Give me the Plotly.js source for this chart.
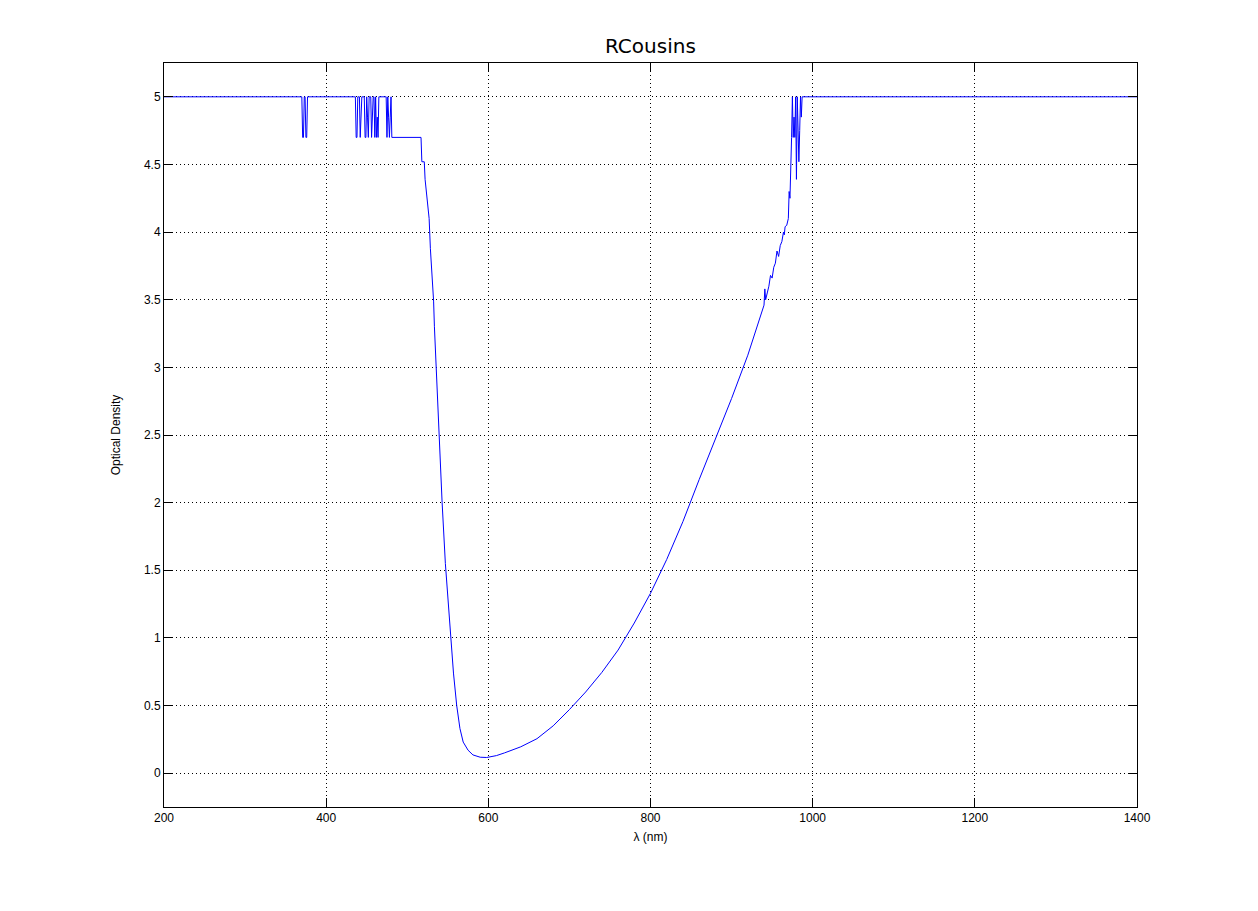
<!DOCTYPE html>
<html>
<head>
<meta charset="utf-8">
<script src="https://cdn.plot.ly/plotly-3.0.1.min.js"></script>
<style>html,body{margin:0;padding:0;background:#fff;}#chart{width:1258px;height:911px;}</style>
</head>
<body>
<div id="chart"></div>
<script>
// wavelength (nm)
const wavelength = [
  200, 370, 371, 372, 373, 374, 375, 376, 377, 378,
  436, 437, 438, 439, 441, 442, 443, 444, 447, 448, 449, 450, 451, 452, 453,
  455, 456, 457, 458, 459, 460, 461, 462, 463, 464, 465, 466,
  474, 475, 476, 477, 478, 479, 480, 481,
  517, 518, 521, 522, 524, 526, 527, 528.5, 530, 531, 532.5, 533.5, 535.5,
  539, 543, 547, 551, 554, 557, 561, 565, 569, 575, 581, 590, 598,
  610, 620, 640, 660, 680, 700, 720, 740, 760, 780, 800, 820, 840, 860, 880,
  900, 920, 930, 938, 940, 941, 942, 944, 946, 948, 950, 952,
  954, 956, 958, 960, 962, 964, 965, 966, 968, 970, 971, 972, 973, 974,
  975, 976, 977, 978, 979, 980, 981, 982, 983, 984, 985, 986, 987, 1400
];
// optical density
const opticalDensity = [
  5, 5, 4.7, 4.7, 5, 5, 4.7, 4.7, 5, 5,
  5, 4.7, 4.7, 5, 5, 4.7, 4.85, 5, 5, 4.7, 4.7, 5, 4.85, 4.7, 5,
  5, 4.7, 4.85, 5, 5, 4.7, 5, 4.7, 4.85, 4.7, 5, 5,
  5, 4.7, 5, 4.85, 4.7, 4.85, 5, 4.7,
  4.7, 4.52, 4.52, 4.39, 4.27, 4.19, 4.10, 3.88, 3.76, 3.63, 3.49, 3.30, 3.0,
  2.5, 2.0, 1.55, 1.22, 1.0, 0.74, 0.5, 0.33, 0.23, 0.17, 0.135, 0.118, 0.116,
  0.13, 0.15, 0.195, 0.255, 0.35, 0.47, 0.6, 0.745, 0.91, 1.11, 1.33, 1.58, 1.86, 2.17, 2.47,
  2.77, 3.09, 3.27, 3.42, 3.46, 3.58, 3.5, 3.55, 3.6, 3.68, 3.66, 3.74,
  3.77, 3.86, 3.82, 3.9, 3.93, 4.0, 3.98, 4.04, 4.05, 4.1, 4.3, 4.25, 4.64, 4.7,
  5, 4.7, 4.85, 4.7, 5, 4.39, 5, 4.7, 4.52, 4.75, 5, 4.85, 5, 5
];
const xTickVals = [200, 400, 600, 800, 1000, 1200, 1400];
const xTickText = ["200", "400", "600", "800", "1000", "1200", "1400"];
const yTickVals = [0, 0.5, 1, 1.5, 2, 2.5, 3, 3.5, 4, 4.5, 5];
const yTickText = ["0", "0.5", "1", "1.5", "2", "2.5", "3", "3.5", "4", "4.5", "5"];

const font = {family: "Liberation Sans, Arial, sans-serif", size: 12, color: "#000"};
const axisCommon = {
  showline: true, linecolor: "#000", linewidth: 1, mirror: "ticks",
  ticks: "inside", ticklen: 9, tickcolor: "#000", tickwidth: 1,
  showgrid: true, gridcolor: "#000", gridwidth: 1, griddash: "1px,3px",
  zeroline: false, tickfont: font, tickmode: "array", automargin: false
};

Plotly.newPlot("chart", [{
  x: wavelength, y: opticalDensity, type: "scatter", mode: "lines",
  line: {color: "#0000ff", width: 1}, hoverinfo: "skip", cliponaxis: false
}], {
  width: 1258, height: 911,
  margin: {l: 164, r: 121, t: 63, b: 104},
  paper_bgcolor: "#fff", plot_bgcolor: "#fff",
  showlegend: false,
  title: {text: "RCousins", x: 0.517, xanchor: "center", y: 0.95, yanchor: "middle",
          font: {family: "DejaVu Sans, sans-serif", size: 20, color: "#000"}},
  xaxis: Object.assign({}, axisCommon, {
    range: [200, 1400], tickvals: xTickVals, ticktext: xTickText,
    title: {text: "λ (nm)", font: {family: font.family, size: 12, color: "#000"}, standoff: 8}
  }),
  yaxis: Object.assign({}, axisCommon, {
    range: [-0.25, 5.25], tickvals: yTickVals, ticktext: yTickText,
    title: {text: "Optical Density", font: {family: font.family, size: 12, color: "#000"}, standoff: 20}
  })
}, {displayModeBar: false, staticPlot: true});
</script>
</body>
</html>
